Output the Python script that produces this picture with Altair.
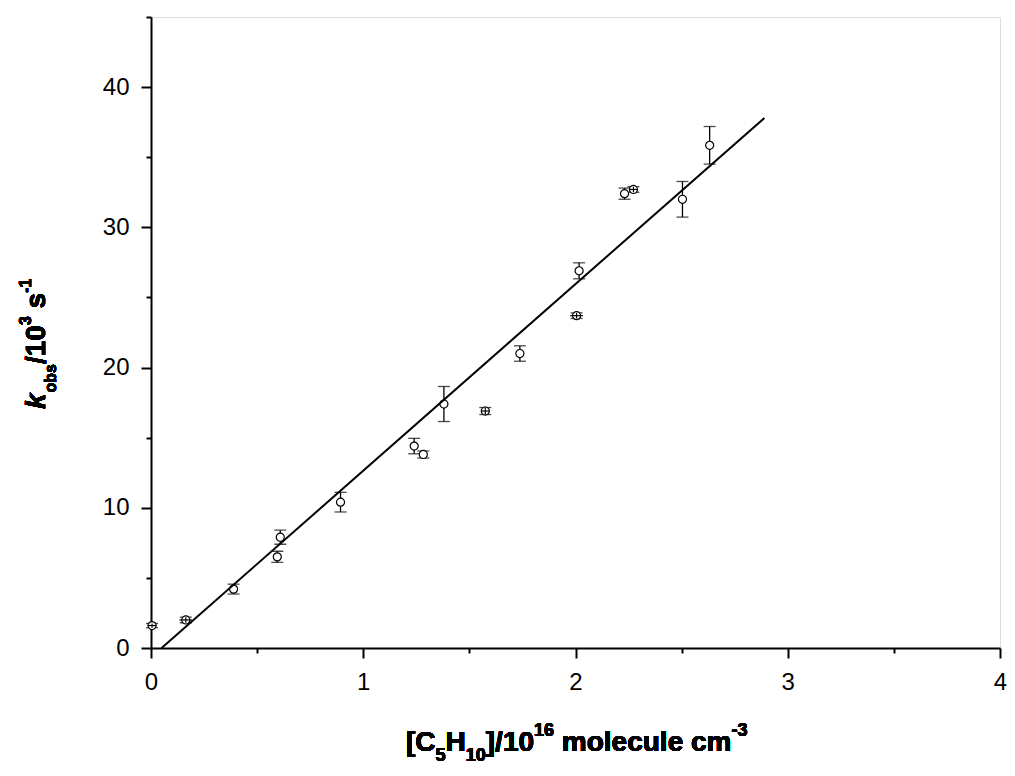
import altair as alt
import pandas as pd

# ---- data ----
x_vals = [0.005, 0.164, 0.389, 0.595, 0.609, 0.893, 1.240, 1.283, 1.380, 1.575,
          1.738, 2.005, 2.017, 2.231, 2.273, 2.504, 2.632]
y_vals = [1.6, 2.0, 4.2, 6.5, 7.9, 10.4, 14.4, 13.8, 17.4, 16.9,
          21.0, 23.7, 26.9, 32.4, 32.7, 32.0, 35.85]
y_err = [0.15, 0.2, 0.35, 0.4, 0.5, 0.7, 0.55, 0.25, 1.25, 0.25,
         0.55, 0.2, 0.57, 0.4, 0.2, 1.27, 1.34]
x_err = [0.02, 0.03, 0, 0, 0, 0, 0, 0, 0, 0.02,
         0, 0.03, 0, 0, 0.02, 0, 0]

fit_x = [0.05, 2.89]
fit_y = [0.0, 37.8]

x_ticks = [0, 0.5, 1, 1.5, 2, 2.5, 3, 3.5, 4]
y_ticks = [0, 5, 10, 15, 20, 25, 30, 35, 40, 45]

df = pd.DataFrame({"x": x_vals, "y": y_vals, "ye": y_err, "xe": x_err})
df["lo"] = df["y"] - df["ye"]
df["hi"] = df["y"] + df["ye"]
df["xlo"] = df["x"] - df["xe"]
df["xhi"] = df["x"] + df["xe"]
caps = pd.DataFrame({"x": list(df["x"]) * 2, "cy": list(df["lo"]) + list(df["hi"])})
cross = df[df["xe"] > 0]
fit = pd.DataFrame({"fx": fit_x, "fy": fit_y})

FONT = "Liberation Sans"
W_PLOT, H_PLOT = 849, 631

xscale = alt.Scale(domain=[0, 4], nice=False, zero=False)
yscale = alt.Scale(domain=[0, 45], nice=False, zero=False)

common_axis = dict(
    title=None, grid=False, domainColor="black", domainWidth=2,
    tickColor="black", tickWidth=2, labelFont=FONT, labelFontSize=24,
    labelColor="black", labelPadding=12, labelFlush=False, labelOverlap=False,
)
xaxis = alt.Axis(
    values=x_ticks,
    labelExpr="datum.value % 1 === 0 ? format(datum.value, 'd') : ''",
    tickSize={"condition": {"test": "datum.value % 1 === 0", "value": 10}, "value": 5},
    **common_axis,
)
yaxis = alt.Axis(
    values=y_ticks,
    labelExpr="datum.value % 10 === 0 ? format(datum.value, 'd') : ''",
    tickSize={"condition": {"test": "datum.value % 10 === 0", "value": 10}, "value": 5},
    **common_axis,
)

X = lambda f: alt.X(f, scale=xscale, axis=xaxis)
Y = lambda f: alt.Y(f, scale=yscale, axis=yaxis)

err = alt.Chart(df).mark_rule(color="black", strokeWidth=1.3).encode(
    x=X("x:Q"), y=Y("lo:Q"), y2="hi:Q")
capm = alt.Chart(caps).mark_tick(color="black", orient="horizontal", size=12,
                                 thickness=1.3).encode(x=X("x:Q"), y=Y("cy:Q"))
pts = alt.Chart(df).mark_point(shape="circle", filled=True, fill="white",
                               stroke="black", strokeWidth=1.2, size=65,
                               opacity=1).encode(x=X("x:Q"), y=Y("y:Q"))
cross_h = alt.Chart(cross).mark_rule(color="black", strokeWidth=1.2).encode(
    x=X("xlo:Q"), x2="xhi:Q", y=Y("y:Q"))
cross_v = alt.Chart(cross).mark_rule(color="black", strokeWidth=1.2).encode(
    x=X("x:Q"), y=Y("lo:Q"), y2="hi:Q")
line = alt.Chart(fit).mark_line(color="black", strokeWidth=2).encode(
    x=X("fx:Q"), y=Y("fy:Q"))

# ---- axis titles with sub/superscripts (pieces of text) ----
WID = {'[': .333, ']': .333, 'C': .722, 'H': .722, '/': .278, ' ': .278,
       'm': .889, 'o': .611, 'l': .278, 'e': .556, 'c': .556, 'u': .611,
       's': .556, 'b': .611, '-': .333, 'k': .556}
for d in "0123456789":
    WID[d] = .556


def tw(s, f):
    return sum(WID[c] for c in s) * f


def layout(parts, fm, fs):
    out, cur = [], 0.0
    for text, role in parts:
        f = fm if role == "m" else fs
        if text.startswith(" "):
            cur += WID[" "] * f
            text = text.lstrip()
        out.append((text, role, cur, f))
        cur += tw(text, f)
    return out


title_layers = []
x_parts = [("[C", "m"), ("5", "b"), ("H", "m"), ("10", "b"), ("]/10", "m"),
           ("16", "p"), (" molecule cm", "m"), ("-3", "p")]
x_base = {"m": 734, "b": 744, "p": 719}
for text, role, cur, f in layout(x_parts, 28, 18):
    title_layers.append(
        alt.Chart(df).mark_text(text=text, font=FONT, fontWeight="bold",
                                fontSize=f, align="left", baseline="alphabetic",
                                color="black")
        .encode(x=alt.value(255 + cur), y=alt.value(x_base[role])))

y_parts = [("k", "m"), ("obs", "b"), ("/10", "m"), ("3", "p"), (" s", "m"), ("-1", "p")]
y_base = {"m": -106, "b": -95, "p": -120}
for i, (text, role, cur, f) in enumerate(layout(y_parts, 28, 16)):
    title_layers.append(
        alt.Chart(df).mark_text(text=text, font=FONT, fontWeight="bold",
                                fontStyle="italic" if i == 0 else "normal",
                                fontSize=f, align="left", baseline="alphabetic",
                                angle=270, color="black")
        .encode(x=alt.value(y_base[role]), y=alt.value(392 - cur - (1 if i > 0 else 0))))

chart = alt.layer(err, capm, pts, cross_h, cross_v, line, *title_layers).properties(
    width=W_PLOT, height=H_PLOT,
    autosize=alt.AutoSizeParams(type="none"),
    padding={"left": 143, "top": 9, "right": 7, "bottom": 118},
).configure_view(stroke=None).configure(background="white")

chart.save("out.html", embed_options={"renderer": "svg", "actions": False})
